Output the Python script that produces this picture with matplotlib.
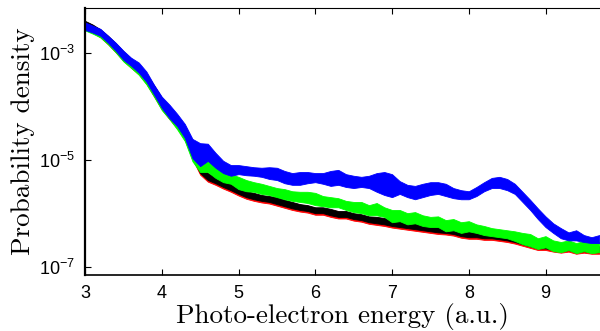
import numpy as np
import matplotlib
matplotlib.use("Agg")
import matplotlib.pyplot as plt
from matplotlib.ticker import FixedLocator, LogFormatterSciNotation, NullLocator

# photo-electron energy grid (a.u.)
energy = [3.0, 3.1, 3.2, 3.3, 3.4, 3.5, 3.6, 3.7, 3.8, 3.9,
          4.0, 4.1, 4.2, 4.3, 4.4, 4.5, 4.6, 4.7, 4.8, 4.9,
          5.0, 5.1, 5.2, 5.3, 5.4, 5.5, 5.6, 5.7, 5.8, 5.9,
          6.0, 6.1, 6.2, 6.3, 6.4, 6.5, 6.6, 6.7, 6.8, 6.9,
          7.0, 7.1, 7.2, 7.3, 7.4, 7.5, 7.6, 7.7, 7.8, 7.9,
          8.0, 8.1, 8.2, 8.3, 8.4, 8.5, 8.6, 8.7, 8.8, 8.9,
          9.0, 9.1, 9.2, 9.3, 9.4, 9.5, 9.6, 9.7]

# upper / lower envelope of each oscillating curve, log10 of the density
red_hi = [-2.40, -2.47, -2.56, -2.68, -2.82, -2.97, -3.11, -3.23, -3.39, -3.61,
          -3.84, -4.02, -4.19, -4.37, -4.66, -5.10, -5.25, -5.32, -5.40, -5.45,
          -5.55, -5.59, -5.62, -5.66, -5.68, -5.70, -5.75, -5.79, -5.83, -5.85,
          -5.89, -5.89, -5.92, -5.96, -5.96, -6.00, -6.02, -6.06, -6.07, -6.09,
          -6.13, -6.15, -6.17, -6.19, -6.21, -6.24, -6.26, -6.28, -6.30, -6.32,
          -6.34, -6.34, -6.36, -6.37, -6.37, -6.39, -6.43, -6.47, -6.51, -6.54,
          -6.54, -6.58, -6.60, -6.58, -6.62, -6.60, -6.62, -6.62]
red_lo = [-2.53, -2.61, -2.70, -2.83, -2.98, -3.14, -3.27, -3.39, -3.57, -3.81,
          -4.05, -4.23, -4.40, -4.62, -4.98, -5.27, -5.40, -5.46, -5.53, -5.59,
          -5.66, -5.72, -5.76, -5.79, -5.81, -5.85, -5.89, -5.93, -5.96, -5.98,
          -6.02, -6.02, -6.06, -6.09, -6.09, -6.13, -6.15, -6.19, -6.21, -6.23,
          -6.26, -6.28, -6.30, -6.32, -6.34, -6.36, -6.38, -6.39, -6.41, -6.45,
          -6.47, -6.47, -6.49, -6.49, -6.51, -6.53, -6.56, -6.60, -6.64, -6.68,
          -6.68, -6.71, -6.73, -6.71, -6.75, -6.73, -6.75, -6.75]

black_hi = [-2.39, -2.46, -2.55, -2.67, -2.81, -2.96, -3.10, -3.22, -3.38, -3.60,
            -3.83, -4.01, -4.18, -4.36, -4.65, -5.09, -5.24, -5.31, -5.39, -5.44,
            -5.54, -5.58, -5.61, -5.65, -5.67, -5.69, -5.74, -5.78, -5.82, -5.84,
            -5.88, -5.88, -5.91, -5.95, -5.95, -5.99, -6.01, -6.05, -6.06, -6.08,
            -6.12, -6.14, -6.16, -6.18, -6.20, -6.23, -6.25, -6.27, -6.29, -6.31,
            -6.33, -6.33, -6.35, -6.36, -6.36, -6.38, -6.42, -6.46, -6.50, -6.53,
            -6.53, -6.57, -6.59, -6.57, -6.61, -6.59, -6.61, -6.61]
black_lo = [-2.50, -2.58, -2.67, -2.80, -2.95, -3.11, -3.24, -3.36, -3.54, -3.78,
            -4.02, -4.20, -4.37, -4.59, -4.95, -5.24, -5.37, -5.43, -5.50, -5.56,
            -5.63, -5.69, -5.73, -5.76, -5.78, -5.82, -5.86, -5.90, -5.93, -5.95,
            -5.99, -5.99, -6.03, -6.06, -6.06, -6.10, -6.12, -6.16, -6.18, -6.20,
            -6.23, -6.25, -6.27, -6.29, -6.31, -6.33, -6.35, -6.36, -6.38, -6.42,
            -6.44, -6.44, -6.46, -6.46, -6.48, -6.50, -6.53, -6.57, -6.61, -6.65,
            -6.65, -6.68, -6.70, -6.68, -6.72, -6.70, -6.72, -6.72]

green_hi = [-2.44, -2.50, -2.57, -2.70, -2.84, -2.99, -3.12, -3.24, -3.41, -3.63,
            -3.85, -4.03, -4.20, -4.39, -4.70, -4.99, -4.99, -5.14, -5.22, -5.26,
            -5.31, -5.37, -5.41, -5.44, -5.48, -5.52, -5.54, -5.58, -5.59, -5.59,
            -5.61, -5.67, -5.69, -5.71, -5.76, -5.78, -5.78, -5.84, -5.80, -5.88,
            -5.93, -5.93, -5.99, -5.97, -6.03, -6.06, -6.05, -6.12, -6.10, -6.16,
            -6.14, -6.20, -6.23, -6.27, -6.29, -6.31, -6.33, -6.36, -6.38, -6.46,
            -6.42, -6.50, -6.53, -6.50, -6.55, -6.51, -6.55, -6.53]
green_lo = [-2.57, -2.63, -2.70, -2.83, -2.98, -3.15, -3.27, -3.40, -3.58, -3.81,
            -4.06, -4.23, -4.42, -4.64, -5.02, -5.22, -5.22, -5.33, -5.41, -5.44,
            -5.54, -5.58, -5.59, -5.63, -5.65, -5.69, -5.73, -5.76, -5.78, -5.80,
            -5.84, -5.86, -5.88, -5.88, -5.93, -5.97, -5.99, -6.03, -6.03, -6.06,
            -6.16, -6.14, -6.20, -6.18, -6.23, -6.25, -6.25, -6.33, -6.31, -6.36,
            -6.33, -6.36, -6.40, -6.42, -6.44, -6.46, -6.51, -6.57, -6.61, -6.66,
            -6.63, -6.70, -6.72, -6.68, -6.74, -6.70, -6.74, -6.72]

blue_hi = [-2.42, -2.48, -2.54, -2.67, -2.80, -2.95, -3.08, -3.17, -3.34, -3.59,
           -3.81, -3.96, -4.13, -4.32, -4.60, -4.68, -4.69, -4.86, -5.01, -5.09,
           -5.09, -5.11, -5.13, -5.14, -5.13, -5.14, -5.20, -5.24, -5.22, -5.22,
           -5.24, -5.24, -5.20, -5.18, -5.26, -5.29, -5.31, -5.29, -5.24, -5.22,
           -5.26, -5.39, -5.46, -5.48, -5.44, -5.41, -5.41, -5.44, -5.52, -5.56,
           -5.58, -5.50, -5.41, -5.33, -5.31, -5.35, -5.44, -5.59, -5.74, -5.90,
           -6.05, -6.18, -6.27, -6.35, -6.31, -6.40, -6.44, -6.40]
blue_lo = [-2.56, -2.61, -2.67, -2.80, -2.95, -3.12, -3.23, -3.36, -3.53, -3.77,
           -4.02, -4.21, -4.36, -4.58, -4.96, -5.11, -5.01, -5.14, -5.24, -5.29,
           -5.26, -5.28, -5.29, -5.31, -5.35, -5.37, -5.43, -5.46, -5.46, -5.43,
           -5.41, -5.44, -5.48, -5.46, -5.50, -5.52, -5.50, -5.52, -5.59, -5.65,
           -5.69, -5.63, -5.69, -5.73, -5.69, -5.65, -5.63, -5.67, -5.71, -5.73,
           -5.73, -5.67, -5.58, -5.52, -5.52, -5.56, -5.63, -5.78, -5.93, -6.10,
           -6.25, -6.36, -6.46, -6.50, -6.50, -6.53, -6.55, -6.55]

series = [
    (red_lo, red_hi, "#ff0000"),
    (black_lo, black_hi, "#000000"),
    (green_lo, green_hi, "#00ff00"),
    (blue_lo, blue_hi, "#0000ff"),
]

plt.rcParams["font.family"] = "Liberation Sans"
plt.rcParams["mathtext.fontset"] = "custom"
plt.rcParams["mathtext.rm"] = "Liberation Sans"
plt.rcParams["mathtext.it"] = "Liberation Sans:italic"

fig = plt.figure(figsize=(6.0, 3.31), dpi=100)
ax = fig.add_axes([0.1417, 0.169, 0.8583, 0.808])

E = np.array(energy)
for lo, hi, col in series:
    ax.fill_between(E, 10 ** np.array(lo), 10 ** np.array(hi),
                    facecolor=col, edgecolor=col, linewidth=0.6)

ax.set_yscale("log")
ax.set_xlim(3, 9.71)
ax.set_ylim(7.1e-8, 7.2e-3)

ax.xaxis.set_major_locator(FixedLocator([3, 4, 5, 6, 7, 8, 9]))
ax.yaxis.set_major_locator(FixedLocator([1e-7, 1e-5, 1e-3]))
ax.yaxis.set_major_formatter(LogFormatterSciNotation())
ax.yaxis.set_minor_locator(NullLocator())

ax.tick_params(axis="both", which="major", direction="in", length=4,
               width=0.8, labelsize=13, top=True, right=False, pad=7)
ax.spines["right"].set_visible(False)
ax.spines["left"].set_linewidth(1.6)
ax.spines["bottom"].set_linewidth(1.2)
ax.spines["top"].set_linewidth(0.8)

ax.set_xlabel("Photo-electron energy (a.u.)", fontfamily="cmr10", fontsize=19.5,
              labelpad=1)
ax.set_ylabel("Probability density", fontfamily="cmr10", fontsize=19.5,
              labelpad=3)

fig.savefig("out.png", dpi=100)
